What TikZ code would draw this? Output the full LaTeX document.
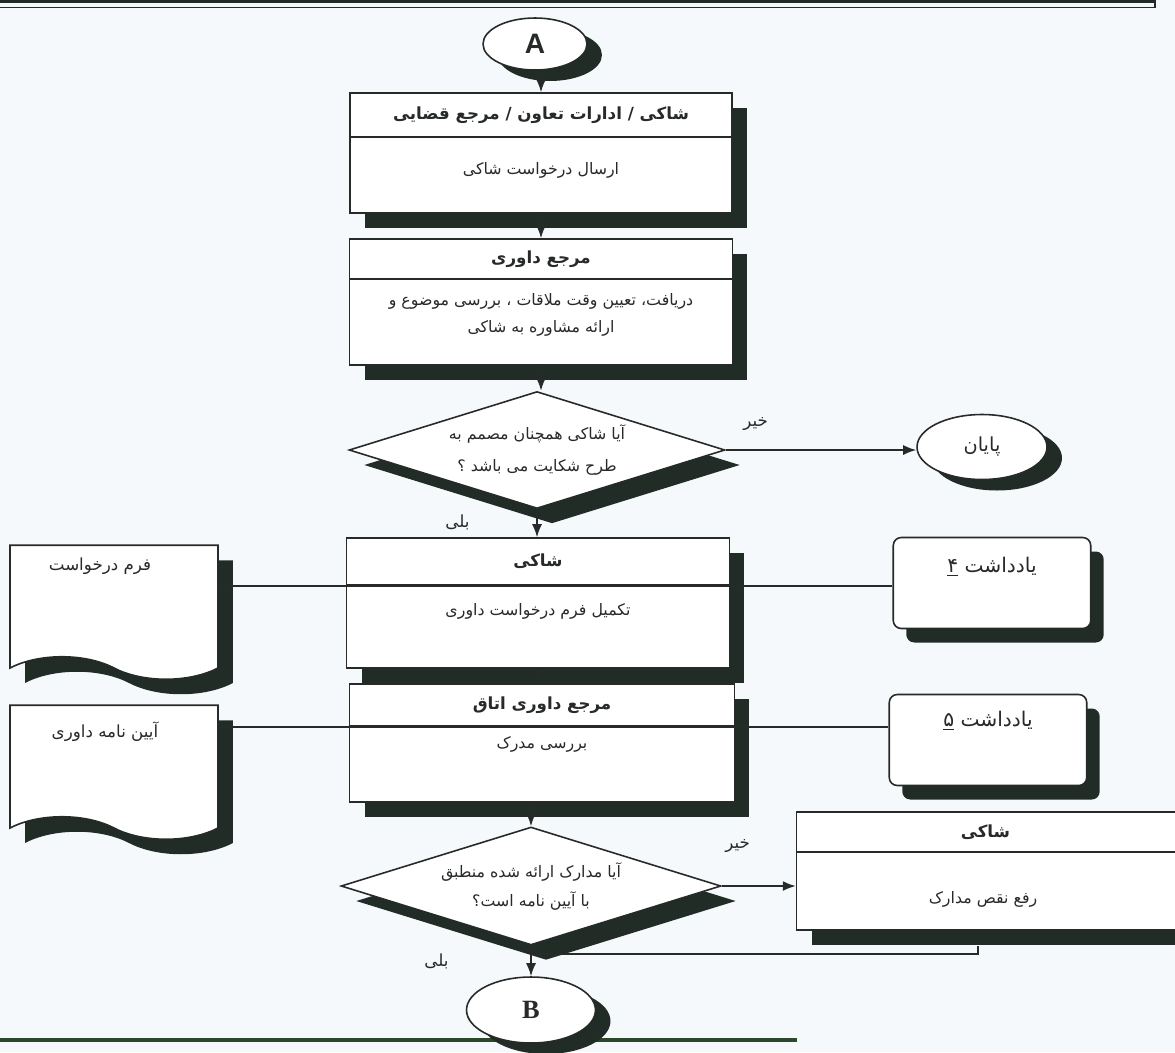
\documentclass[tikz,border=0pt]{standalone}
\usepackage{fontspec}
\usepackage{tikz}
\usetikzlibrary{shapes.geometric,shapes.symbols,shadows,arrows.meta,calc,positioning}
\setmainfont{Liberation Serif}
\newfontfamily\farsi[Script=Arabic]{DejaVu Sans}
\newfontfamily\latinsans{Liberation Sans}
\TeXXeTstate=1
\newcommand{\fatxt}[1]{\beginR #1\endR}
\definecolor{paper}{RGB}{245,249,251}
\definecolor{ink}{RGB}{38,42,40}
\definecolor{shadowc}{RGB}{34,44,38}
\definecolor{rulec}{RGB}{44,72,42}

\begin{document}
\begin{tikzpicture}[x=0.02cm,y=-0.02cm,>={Latex[length=0.26cm,width=0.2cm]},line width=0.9pt,color=ink,
  dshadow/.style={drop shadow={shadow xshift=0.3cm,shadow yshift=-0.3cm,fill=shadowc,opacity=1}},
  proc/.style={draw=ink,fill=white,dshadow,inner sep=0pt},
  prochead/.style={draw=ink,inner sep=0pt,font=\farsi\bfseries\fontsize{9.5}{12}\selectfont},
  procbody/.style={inner sep=1pt,align=center,font=\farsi\fontsize{9}{15.5}\selectfont},
  ask/.style={diamond,aspect=3,draw=ink,fill=white,dshadow,inner sep=0pt,align=center},
  term/.style={ellipse,draw=ink,fill=white,inner sep=0pt,drop shadow={shadow xshift=0.3cm,shadow yshift=-0.22cm,fill=shadowc,opacity=1}},
  doc/.style={tape,tape bend top=none,tape bend bottom=out and in,tape bend height=0.45cm,draw=ink,fill=white,dshadow,minimum width=4.16cm,minimum height=2.68cm,inner sep=0pt},
  note/.style={rectangle,rounded corners=0.16cm,draw=ink,fill=white,minimum width=3.95cm,minimum height=1.82cm,drop shadow={shadow xshift=0.26cm,shadow yshift=-0.28cm,fill=shadowc,opacity=1},inner sep=0pt},
  lbl/.style={inner sep=1pt,font=\farsi\fontsize{9.5}{11}\selectfont}]

\useasboundingbox (0,0) rectangle (1175,1052);
\fill[paper] (0,0) rectangle (1175,1052);
% frame edge at the top and rule at the bottom
\fill[shadowc] (0,0) rectangle (1155,3);
\draw[line width=0.6pt] (0,7.5) -- (1155,7.5) -- (1155,0);
\draw[rulec,line width=0.08cm] (0,1040) -- (797,1040);

% connector in
\node[term,minimum width=2.08cm,minimum height=1.04cm,font=\latinsans\bfseries\fontsize{16}{16}\selectfont] (A) at (535,44) {A};

% request
\node[proc,minimum width=7.64cm,minimum height=2.4cm] (snd) at (541,153) {};
\node[prochead,minimum width=7.64cm,minimum height=0.88cm,below=0pt of snd.north] (sndh) {\fatxt{شاکی / ادارات تعاون / مرجع قضایی}};
\node[procbody,below=0.44cm of sndh] (sndb) {\fatxt{ارسال درخواست شاکی}};

% arbitration office
\node[proc,minimum width=7.66cm,minimum height=2.52cm] (rcv) at (541,302) {};
\node[prochead,minimum width=7.66cm,minimum height=0.8cm,below=0pt of rcv.north] (rcvh) {\fatxt{مرجع داوری}};
\node[procbody,below=0.22cm of rcvh] (rcvb) {\fatxt{دریافت، تعیین وقت ملاقات ، بررسی موضوع و}\\\fatxt{ارائه مشاوره به شاکی}};

% still decided?
\node[ask,minimum width=7.52cm,minimum height=2.34cm,font=\farsi\fontsize{9}{18.5}\selectfont] (q1) at (537,450) {\fatxt{آیا شاکی همچنان مصمم به}\\\fatxt{طرح شکایت می باشد ؟}};
\node[term,minimum width=2.6cm,minimum height=1.3cm,font=\farsi\fontsize{11}{13}\selectfont] (stop) at (982,447) {\fatxt{پایان}};

% form
\node[proc,minimum width=7.66cm,minimum height=2.6cm] (fill) at (538,603) {};
\node[prochead,minimum width=7.66cm,minimum height=0.94cm,below=0pt of fill.north] (fillh) {\fatxt{شاکی}};
\node[procbody,below=0.3cm of fillh] (fillb) {\fatxt{تکمیل فرم درخواست داوری}};

% check
\node[proc,minimum width=7.7cm,minimum height=2.36cm] (chk) at (542,743) {};
\node[prochead,minimum width=7.7cm,minimum height=0.84cm,below=0pt of chk.north] (chkh) {\fatxt{مرجع داوری اتاق}};
\node[procbody,below=0.14cm of chkh] (chkb) {\fatxt{بررسی مدرک}};

% documents and notes
\node[doc] (frm) at (114,601) {};
\node[lbl,below=0.22cm of frm.north,xshift=-0.28cm] (frmt) {\fatxt{فرم درخواست}};
\node[doc] (rul) at (114,761) {};
\node[lbl,below=0.3cm of rul.north,xshift=-0.18cm] (rult) {\fatxt{آیین نامه داوری}};
\node[note] (n4) at (992,583) {};
\node[lbl,font=\farsi\fontsize{11.5}{13}\selectfont,below=0.36cm of n4.north] (n4t) {\fatxt{یادداشت \underline{۴}}};
\node[note] (n5) at (988,740) {};
\node[lbl,font=\farsi\fontsize{11.5}{13}\selectfont,below=0.3cm of n5.north] (n5t) {\fatxt{یادداشت \underline{۵}}};

% papers match the rules?
\node[ask,minimum width=7.6cm,minimum height=2.36cm,font=\farsi\fontsize{9}{16.5}\selectfont] (q2) at (531,886) {\fatxt{آیا مدارک ارائه شده منطبق}\\\fatxt{با آیین نامه است؟}};
\node[proc,minimum width=8.06cm,minimum height=2.36cm] (fix) at (998,871) {};
\node[prochead,minimum width=8.06cm,minimum height=0.8cm,below=0pt of fix.north] (fixh) {\hspace*{-0.5cm}\fatxt{شاکی}};
\node[procbody,below=0.72cm of fixh,xshift=-0.3cm] (fixb) {\fatxt{رفع نقص مدارک}};

% connector out
\node[term,minimum width=2.58cm,minimum height=1.32cm,font=\bfseries\fontsize{15}{15}\selectfont] (B) at (531,1010) {B};

\draw[->] (A.south -| snd.north) -- (snd.north);
\draw[->] (snd.south) -- (rcv.north);
\draw[->] (rcv.south) -- (rcv.south |- q1.north);
\draw[->] (q1.east) -- (q1.east -| stop.west);
\draw[->] (q1.south) -- (q1.south |- fill.north);
\draw[->] (fill.south) -- (fill.south |- chk.north);
\draw[->] (chk.south -| q2.north) -- (q2.north);
\draw[->] (q2.east) -- (q2.east -| fix.west);
\draw[->] (q2.south) -- (q2.south |- B.north);
\coordinate (back) at ($(q2.south)+(0,8)$);
\draw ($(fix.south)+(-20,15)$) |- (back);
\draw (frm.east |- fillh.south) -- (n4.west |- fillh.south);
\draw (rul.east |- chkh.south) -- (n5.west |- chkh.south);

\node[lbl,above right=0.34cm and 0.3cm of q1.east] (no1) {\fatxt{خیر}};
\node[lbl,below left=0.05cm and 1.3cm of q1.south] (yes1) {\fatxt{بلی}};
\node[lbl,above right=0.62cm and 0.02cm of q2.east] (no2) {\fatxt{خیر}};
\node[lbl,below left=0.1cm and 1.6cm of q2.south] (yes2) {\fatxt{بلی}};
\end{tikzpicture}
\end{document}
